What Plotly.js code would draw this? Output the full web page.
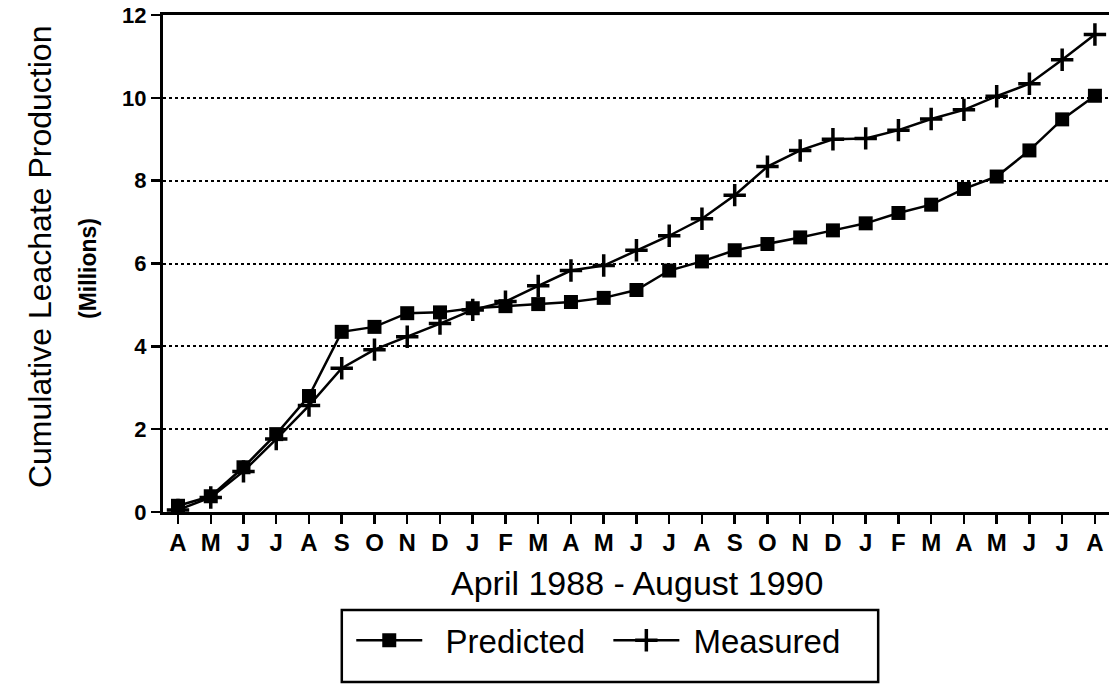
<!DOCTYPE html>
<html><head><meta charset="utf-8">
<script src="https://cdn.plot.ly/plotly-3.0.1.min.js"></script>
<style>html,body{margin:0;padding:0;background:#fff}</style>
</head><body>
<div id="chart" style="width:1110px;height:684px"></div>
<script>
// Months April 1988 - August 1990
const monthLabels = ["A","M","J","J","A","S","O","N","D","J","F","M","A","M","J","J","A","S","O","N","D","J","F","M","A","M","J","J","A"];
// Cumulative leachate production (millions)
const predicted = [0.15, 0.38, 1.08, 1.88, 2.80, 4.35, 4.47, 4.80, 4.82, 4.92, 4.97, 5.02, 5.07, 5.17, 5.36, 5.83, 6.05, 6.32, 6.47, 6.63, 6.80, 6.97, 7.22, 7.42, 7.80, 8.10, 8.73, 9.48, 10.05];
const measured  = [0.05, 0.35, 0.98, 1.76, 2.57, 3.47, 3.92, 4.23, 4.55, 4.88, 5.08, 5.46, 5.83, 5.95, 6.32, 6.67, 7.08, 7.65, 8.34, 8.73, 9.00, 9.02, 9.22, 9.49, 9.71, 10.04, 10.34, 10.92, 11.53];
const yTicks = [0, 2, 4, 6, 8, 10, 12];
const seriesNames = ["Predicted", "Measured"];

const xIdx = monthLabels.map((m, i) => i);
const FONT = "Liberation Sans, Arial, Helvetica, sans-serif";
const NB = "\u00A0";

const traces = [
  {
    x: xIdx, y: predicted, name: NB + NB + seriesNames[0] + NB + NB, type: "scatter", mode: "lines+markers",
    line: {color: "#000", width: 2.5},
    marker: {symbol: "square", size: 14, color: "#000"}
  },
  {
    x: xIdx, y: measured, name: NB + seriesNames[1], type: "scatter", mode: "lines+markers",
    line: {color: "#000", width: 2.5},
    marker: {symbol: "cross-thin-open", size: 16, color: "#000", line: {color: "#000", width: 3.5}}
  }
];

const layout = {
  width: 1110, height: 684,
  margin: {l: 163, r: 1, t: 15, b: 172},
  paper_bgcolor: "#fff", plot_bgcolor: "#fff",
  font: {family: FONT, color: "#000"},
  showlegend: true,
  legend: {
    orientation: "h", x: 0.199, xanchor: "left", y: -0.258, yanchor: "middle",
    font: {size: 33, family: FONT, color: "#000"},
    itemwidth: 66, bgcolor: "rgba(0,0,0,0)", borderwidth: 0,
    itemclick: false, itemdoubleclick: false
  },
  xaxis: {
    range: [-0.458, 28.43], tickmode: "array", tickvals: xIdx, ticktext: monthLabels,
    showgrid: false, zeroline: false,
    showline: true, linecolor: "#000", linewidth: 3, mirror: true,
    ticks: "outside", ticklen: 9, tickwidth: 2.5, tickcolor: "#000",
    tickfont: {size: 24, family: FONT, weight: "bold", color: "#000"},
    ticklabelstandoff: -2,
    fixedrange: true
  },
  yaxis: {
    range: [0, 12], tickmode: "array", tickvals: yTicks,
    showgrid: true, gridcolor: "#000", gridwidth: 2, griddash: "dot",
    zeroline: false,
    showline: true, linecolor: "#000", linewidth: 3,
    ticks: "outside", ticklen: 9, tickwidth: 2.5, tickcolor: "#000",
    tickfont: {size: 22, family: FONT, weight: "bold", color: "#000"},
    fixedrange: true
  },
  annotations: [
    {text: "Cumulative Leachate Production", xref: "paper", yref: "paper",
     x: -0.130, y: 0.513, xanchor: "center", yanchor: "middle", textangle: -90,
     showarrow: false, font: {size: 32, family: FONT, color: "#000"}},
    {text: "(Millions)", xref: "paper", yref: "paper",
     x: -0.0793, y: 0.491, xanchor: "center", yanchor: "middle", textangle: -90,
     showarrow: false, font: {size: 23, family: FONT, weight: "bold", color: "#000"}},
    {text: "April 1988 - August 1990", xref: "paper", yref: "paper",
     x: 0.501, y: -0.143, xanchor: "center", yanchor: "middle",
     showarrow: false, font: {size: 34, family: FONT, color: "#000"}}
  ],
  shapes: [
    {type: "rect", xref: "paper", yref: "paper",
     x0: 0.189, x1: 0.756, y0: -0.342, y1: -0.197,
     line: {color: "#000", width: 2.5}, fillcolor: "rgba(0,0,0,0)"}
  ]
};

Plotly.newPlot("chart", traces, layout, {displayModeBar: false, staticPlot: true});
</script>
</body></html>
